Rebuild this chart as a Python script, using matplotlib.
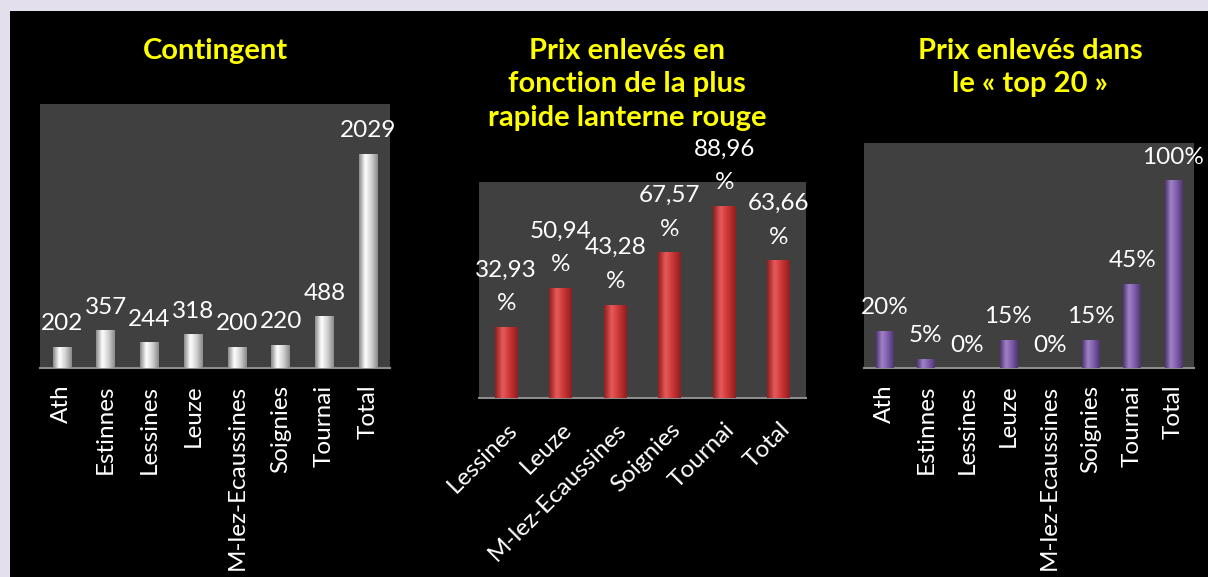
import numpy as np
import matplotlib
matplotlib.use("Agg")
import matplotlib.pyplot as plt
from matplotlib.colors import LinearSegmentedColormap
from matplotlib.patches import Rectangle

plt.rcParams["font.family"] = ["Lato", "DejaVu Sans"]

# data
contingent_labels = ["Ath", "Estinnes", "Lessines", "Leuze", "M-lez-Ecaussines",
                     "Soignies", "Tournai", "Total"]
contingent_values = [202, 357, 244, 318, 200, 220, 488, 2029]

rapide_labels = ["Lessines", "Leuze", "M-lez-Ecaussines", "Soignies", "Tournai", "Total"]
rapide_values = [32.93, 50.94, 43.28, 67.57, 88.96, 63.66]

top20_labels = ["Ath", "Estinnes", "Lessines", "Leuze", "M-lez-Ecaussines",
                "Soignies", "Tournai", "Total"]
top20_values = [20, 5, 0, 15, 0, 15, 45, 100]

W, H = 1208, 577
fig = plt.figure(figsize=(W / 100, H / 100), dpi=100)
fig.patch.set_facecolor("#e4dfec")
fig.patches.append(Rectangle((10 / W, 0), 1, 1 - 11 / H, transform=fig.transFigure,
                             facecolor="black", edgecolor="none", zorder=-5))

PLOT_BG = "#404040"
LBL_SIZE = 17.5


def shade_bars(ax, bars, dark, light, mid):
    cmap = LinearSegmentedColormap.from_list("g", [dark, light, mid, dark])
    grad = np.linspace(0, 1, 64).reshape(1, -1)
    for b in bars:
        x, y = b.get_x(), b.get_y()
        w, h = b.get_width(), b.get_height()
        if h <= 0:
            continue
        im = ax.imshow(grad, extent=[x, x + w, y, y + h], aspect="auto",
                       cmap=cmap, zorder=3, interpolation="bicubic")
        im.set_clip_path(b)


def make_chart(rect, labels, values, ymax, colors, fmt, rot, title, tx, linesp=1.2):
    ax = fig.add_axes(rect)
    ax.set_facecolor(PLOT_BG)
    pos = np.arange(len(values))
    bars = ax.bar(pos, values, width=0.42, color=colors[2], zorder=2)
    shade_bars(ax, bars, *colors)
    for p, v in zip(pos, values):
        ax.annotate(fmt(v), (p, v), xytext=(0, 9), textcoords="offset points",
                    ha="center", va="bottom", color="white", fontsize=LBL_SIZE,
                    linespacing=linesp, zorder=5, annotation_clip=False)
    ax.set_xlim(-0.5, len(values) - 0.5)
    ax.set_ylim(0, ymax)
    ax.set_yticks([])
    ax.set_xticks(pos)
    if rot == 90:
        ax.set_xticklabels(labels, rotation=90, color="white", fontsize=LBL_SIZE)
        ax.tick_params(axis="x", length=0, pad=12)
    else:
        ax.set_xticklabels(labels, rotation=rot, ha="right", rotation_mode="anchor",
                           color="white", fontsize=LBL_SIZE)
        ax.tick_params(axis="x", length=0, pad=15)
    for s in ["top", "left", "right"]:
        ax.spines[s].set_visible(False)
    ax.spines["bottom"].set_color("#8c8c8c")
    ax.spines["bottom"].set_linewidth(1.5)
    fig.text(tx, 1 - 38 / H, title, ha="center", va="top", color="#ffff00",
             fontsize=21, fontweight="bold", linespacing=1.35)
    return ax


make_chart([40 / W, 1 - 368 / H, 350 / W, 264 / H],
           contingent_labels, contingent_values, 2500,
           ("#8a8a8a", "#ffffff", "#d0d0d0"),
           lambda v: f"{v}", 90, "Contingent", 215 / W)

make_chart([479 / W, 1 - 398 / H, 327 / W, 216 / H],
           rapide_labels, rapide_values, 100,
           ("#8e1f1f", "#e85a5a", "#c83434"),
           lambda v: f"{v:.2f}".replace(".", ",") + "\n%", 45,
           "Prix enlevés en\nfonction de la plus\nrapide lanterne rouge", 627 / W,
           linesp=1.75)

make_chart([864 / W, 1 - 368 / H, 330 / W, 225 / H],
           top20_labels, top20_values, 120,
           ("#4e3570", "#a083c8", "#7d5ca8"),
           lambda v: f"{v}%", 90,
           "Prix enlevés dans\nle « top 20 »", 1030 / W)

fig.savefig("out.png", dpi=100, facecolor=fig.get_facecolor())
